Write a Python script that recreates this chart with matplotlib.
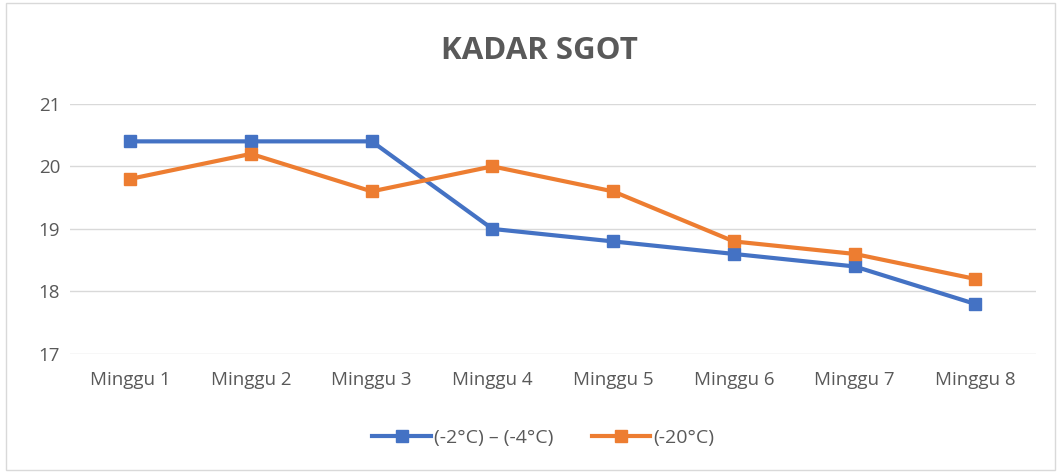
import matplotlib
matplotlib.use("Agg")
import matplotlib.pyplot as plt
from matplotlib.patches import Rectangle

# data
weeks = ["Minggu 1", "Minggu 2", "Minggu 3", "Minggu 4",
         "Minggu 5", "Minggu 6", "Minggu 7", "Minggu 8"]
series_a = [20.4, 20.4, 20.4, 19.0, 18.8, 18.6, 18.4, 17.8]
series_b = [19.8, 20.2, 19.6, 20.0, 19.6, 18.8, 18.6, 18.2]
label_a = "(-2°C) – (-4°C)"
label_b = "(-20°C)"
yticks = [17, 18, 19, 20, 21]

plt.rcParams["font.family"] = ["Open Sans", "DejaVu Sans"]
text_gray = "#595959"

fig = plt.figure(figsize=(10.59, 4.72), dpi=100)
ax = fig.add_axes([0.066, 0.25, 0.912, 0.53])

x = list(range(len(weeks)))
ax.plot(x, series_a, color="#4472C4", lw=3, marker="s", ms=8, label=label_a)
ax.plot(x, series_b, color="#ED7D31", lw=3, marker="s", ms=8, label=label_b)

ax.set_xlim(-0.5, len(weeks) - 0.5)
ax.set_ylim(17, 21)
ax.set_yticks(yticks)
ax.set_xticks(x)
ax.set_xticklabels(weeks)
ax.grid(axis="y", color="#d9d9d9", lw=1)
ax.set_axisbelow(True)
for s in ax.spines.values():
    s.set_visible(False)
ax.tick_params(length=0, colors=text_gray, labelsize=13.5)
ax.tick_params(axis="x", pad=12)
ax.tick_params(axis="y", pad=7)

fig.text(0.509, 0.893, "KADAR SGOT", ha="center", va="center",
         fontsize=22.5, fontweight="bold", color=text_gray)

leg = fig.legend(loc="center", bbox_to_anchor=(0.513, 0.072), ncol=2,
                 frameon=False, fontsize=14, handlelength=3.0,
                 columnspacing=2.0, handletextpad=0.15)
for t in leg.get_texts():
    t.set_color(text_gray)

fig.patches.append(Rectangle((0.006, 0.004), 0.99, 0.99, transform=fig.transFigure,
                             fill=False, edgecolor="#d9d9d9", lw=1))

fig.savefig("out.png", dpi=100)
